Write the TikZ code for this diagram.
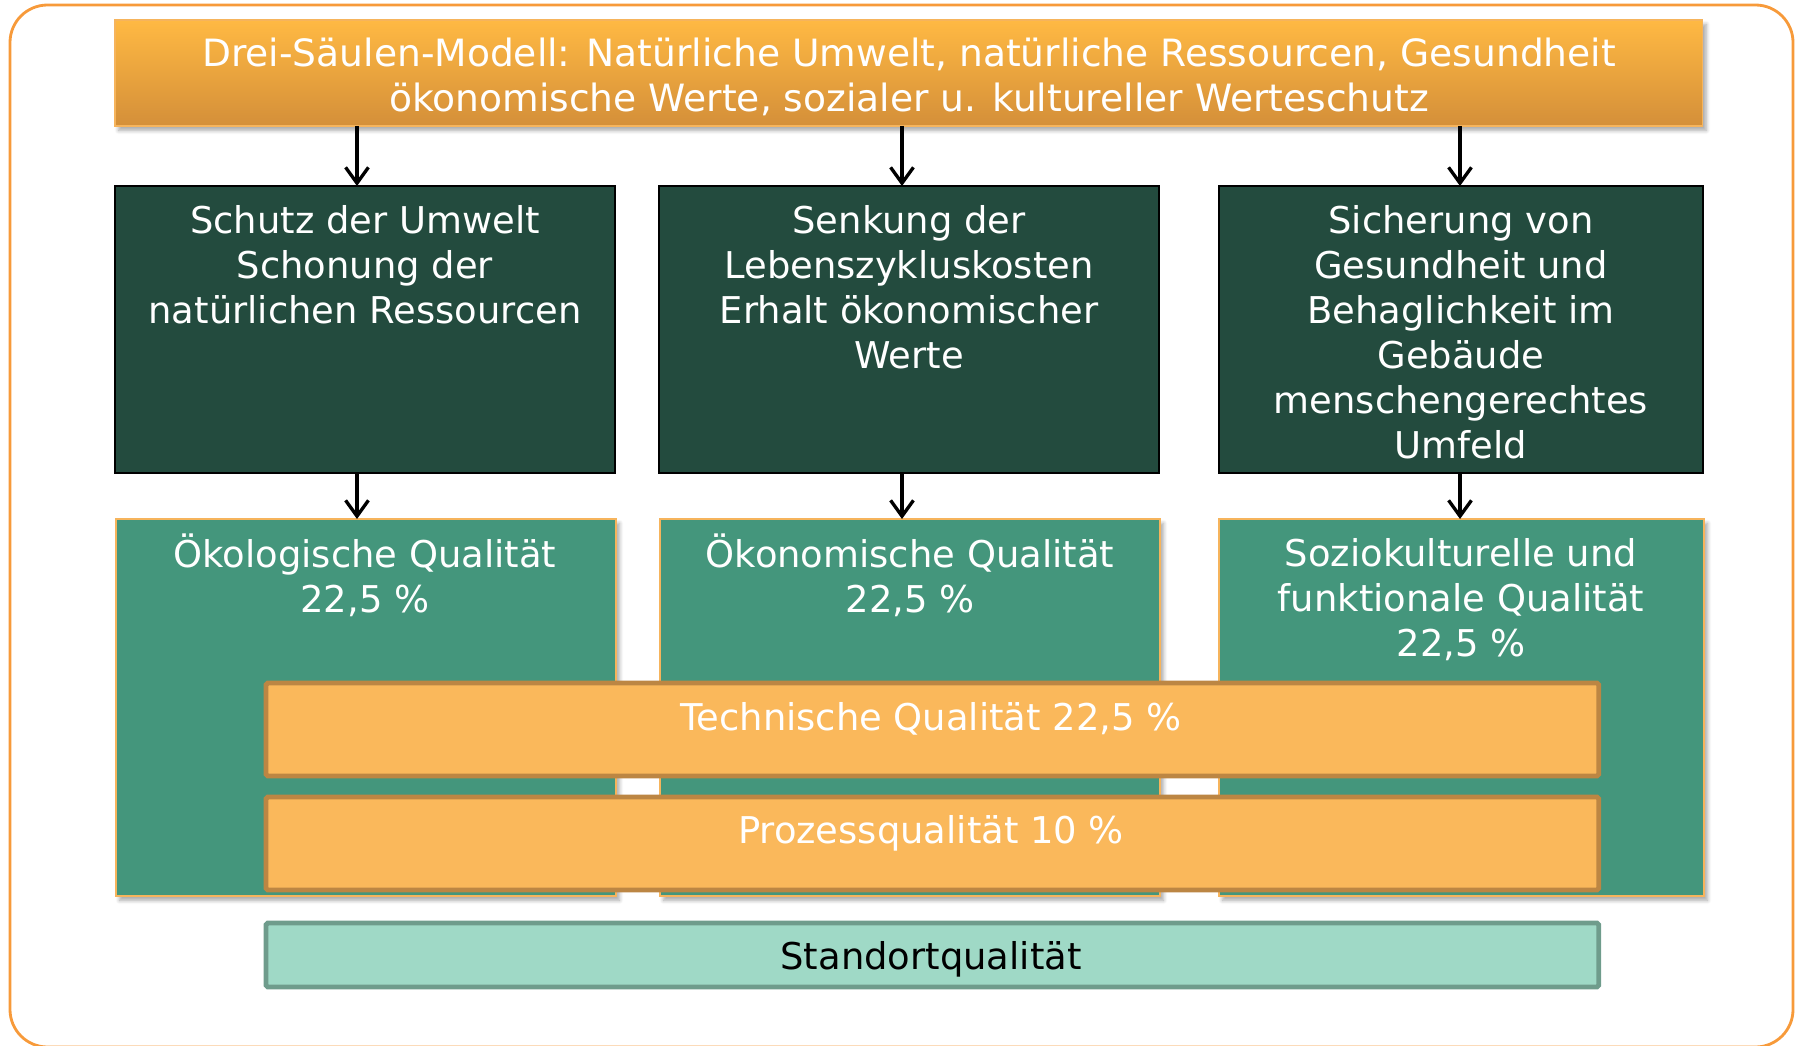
\documentclass[tikz,border=0pt]{standalone}
\usepackage{fontspec}
\setmainfont{DejaVu Sans}
\usetikzlibrary{arrows.meta,shadows.blur}
\definecolor{rahmen}{HTML}{F79A3A}
\definecolor{kopfoben}{HTML}{FFB943}
\definecolor{kopfunten}{HTML}{D48F39}
\definecolor{kopfrand}{HTML}{F6B45C}
\definecolor{dunkelgruen}{HTML}{234B3E}
\definecolor{saeule}{HTML}{44967C}
\definecolor{balken}{HTML}{FAB85B}
\definecolor{balkenrand}{HTML}{BC8643}
\definecolor{standort}{HTML}{9FD9C6}
\definecolor{standortrand}{HTML}{6F9C8C}

\begin{document}
\begin{tikzpicture}[x=0.02cm,y=-0.02cm,
  box/.style={anchor=north west,inner sep=0pt,outer sep=0pt},
  schatten/.style={blur shadow={shadow blur steps=6,shadow xshift=2pt,shadow yshift=-2.5pt,shadow opacity=35}},
  kopf/.style={box,schatten,top color=kopfoben,bottom color=kopfunten,draw=kopfrand,line width=0.8pt},
  ziel/.style={box,fill=dunkelgruen,draw=black,line width=1.1pt},
  qual/.style={box,schatten,fill=saeule,draw=kopfrand,line width=0.9pt},
  leiste/.style={box,fill=balken,draw=balkenrand,line width=2.8pt,rounded corners=1pt},
  txt/.style={font=\fontsize{21}{25.6}\selectfont,text=white,align=center,inner sep=0pt},
  pfeil/.style={-{Straight Barb[length=9pt,width=13pt]},line width=1.9pt}]
  \useasboundingbox (0,0) rectangle (1801,1045);
  \draw[rahmen,line width=1.6pt,rounded corners=0.75cm] (10,5) rectangle (1793,1047);

  % Kopfzeile
  \node[kopf,minimum width=31.76cm,minimum height=2.12cm] (modell) at (115,20) {};

  % Schutzziele
  \node[ziel,minimum width=10cm,minimum height=5.74cm] (umwelt) at (115,186) {};
  \node[ziel,minimum width=10cm,minimum height=5.74cm] (kosten) at (659,186) {};
  \node[ziel,minimum width=9.68cm,minimum height=5.74cm] (gesund) at (1219,186) {};

  % Saeulen
  \node[qual,minimum width=10cm,minimum height=7.54cm] (oeko) at (116,519) {};
  \node[qual,minimum width=10cm,minimum height=7.54cm] (oekon) at (660,519) {};
  \node[qual,minimum width=9.7cm,minimum height=7.54cm] (sozio) at (1219,519) {};

  % Querschnittsthemen
  \node[leiste,minimum width=26.66cm,minimum height=1.86cm] (technik) at (266,683) {};
  \node[leiste,minimum width=26.66cm,minimum height=1.86cm] (prozess) at (266,797) {};
  \node[leiste,fill=standort,draw=standortrand,minimum width=26.66cm,minimum height=1.28cm] (standort) at (266,923) {};

  % Pfeile
  \foreach \x [count=\i] in {357,902,1460}
    \coordinate (p\i) at (\x,0);
  \foreach \a/\b/\i in {umwelt/oeko/1,kosten/oekon/2,gesund/sozio/3} {
    \draw[pfeil] (modell.south -| p\i) -- (\a.north -| p\i);
    \draw[pfeil] (\a.south -| p\i) -- (\b.north -| p\i);
  }

  % Texte
  \node[txt,font=\fontsize{21.4}{25.8}\selectfont] (modellT) at (909,77) {Drei-Säulen-Modell: Natürliche Umwelt, natürliche Ressourcen, Gesundheit\\ökonomische Werte, sozialer u. kultureller Werteschutz};
  \node[txt] (umweltT) at (365,265) {Schutz der Umwelt\\Schonung der\\natürlichen Ressourcen};
  \node[txt] (kostenT) at (909,287) {Senkung der\\Lebenszykluskosten\\Erhalt ökonomischer\\Werte};
  \node[txt] (gesundT) at (1461,332) {Sicherung von\\Gesundheit und\\Behaglichkeit im\\Gebäude\\menschengerechtes\\Umfeld};
  \node[txt] (oekoT) at (365,575) {Ökologische Qualität\\22,5 \%};
  \node[txt] (oekonT) at (910,575) {Ökonomische Qualität\\22,5 \%};
  \node[txt] (sozioT) at (1461,600) {Soziokulturelle und\\funktionale Qualität\\22,5 \%};
  \node[txt] (technikT) at (931,719) {Technische Qualität 22,5 \%};
  \node[txt] (prozessT) at (931,833) {Prozessqualität 10 \%};
  \node[txt,text=black] (standortT) at (931,959) {Standortqualität};
\end{tikzpicture}
\end{document}
